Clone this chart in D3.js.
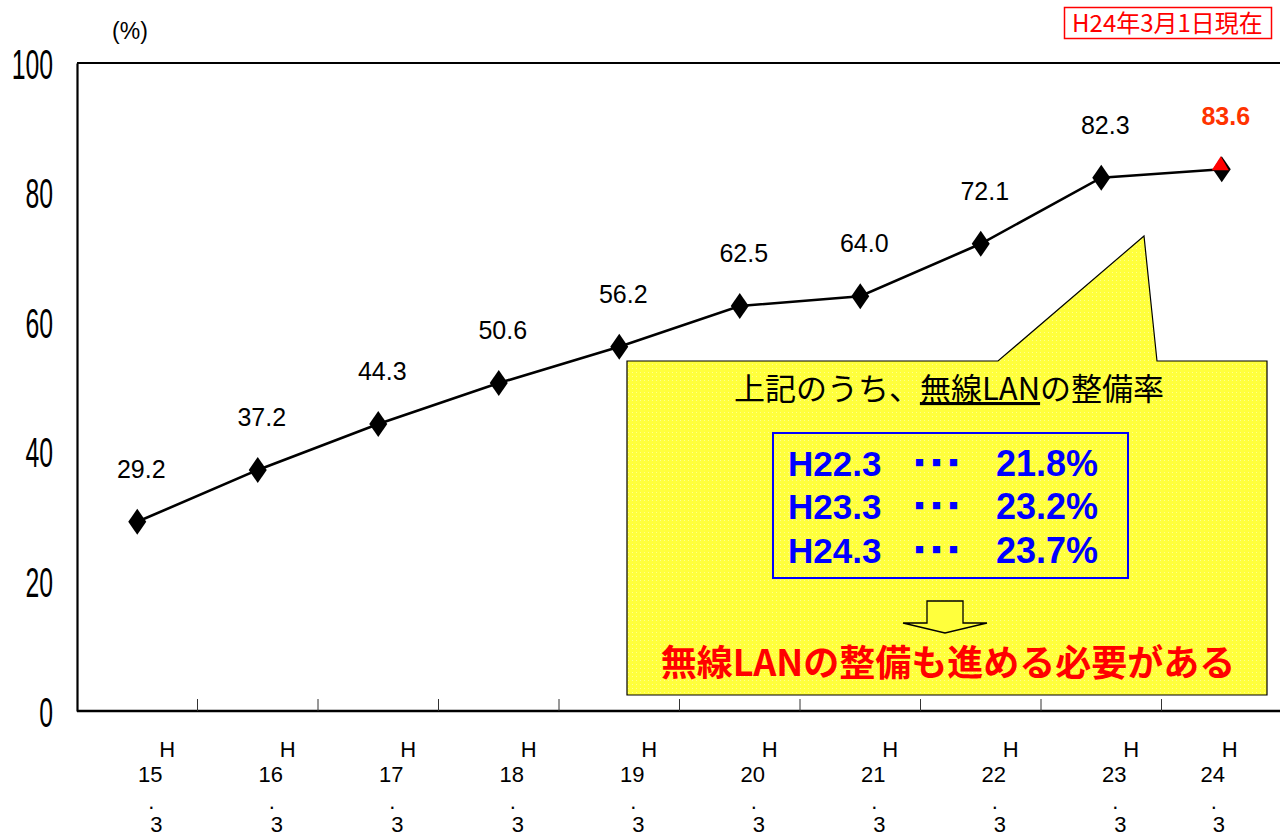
<!DOCTYPE html>
<html>
<head>
<meta charset="utf-8">
<script src="https://d3js.org/d3.v7.min.js"></script>
<style>
	body, html {
		margin: 0;
		padding: 0;
		background: #fff;
	}
	svg { display: block; }
	.ylab {
		font-family: "Liberation Sans", sans-serif;
		font-size: 31px;
	}
	.xlab {
		font-family: "Liberation Sans", sans-serif;
		font-size: 22px;
		text-anchor: middle;
	}
	.val {
		font-family: "Liberation Sans", Arial, sans-serif;
		font-size: 25px;
		text-anchor: middle;
	}
	.jp { font-family: "Noto Sans CJK JP", sans-serif; }
</style>
</head>
<body>
<script>

	// data
	var categories = ["15", "16", "17", "18", "19", "20", "21", "22", "23", "24"];
	var rates = [29.2, 37.2, 44.3, 50.6, 56.2, 62.5, 64.0, 72.1, 82.3, 83.6];
	var yTicks = [0, 20, 40, 60, 80, 100];
	var wlanYears = ["H22.3", "H23.3", "H24.3"];
	var wlanRates = ["21.8%", "23.2%", "23.7%"];

	var w = 1280, h = 839;
	var plotLeft = 77, plotTop = 63, plotBottom = 711;
	var bandW = 120.5;

	var svg = d3.select("body").append("svg")
		.attr("width", w)
		.attr("height", h);

	var x = d3.scaleBand()
		.domain(categories)
		.range([plotLeft, plotLeft + bandW * categories.length]);

	var y = d3.scaleLinear()
		.domain([0, 100])
		.range([plotBottom, plotTop]);

	// frame (top line runs off the right edge)
	svg.append("line")
		.attr("x1", plotLeft).attr("x2", w + 5)
		.attr("y1", y(100)).attr("y2", y(100))
		.attr("stroke", "#000").attr("stroke-width", 2.2);

	// y axis -- condensed, tall digits
	var sx = 0.8, sy = 1.35;
	var yAxis = d3.axisLeft(y)
		.tickValues(yTicks)
		.tickSize(0)
		.tickSizeOuter(0)
		.tickPadding(24 / sx);

	var gy = svg.append("g")
		.attr("transform", "translate(" + plotLeft + ",0)")
		.call(yAxis)
		.attr("font-size", null)
		.attr("font-family", null);
	gy.select(".domain").attr("stroke", "#000").attr("stroke-width", 2.2);
	gy.selectAll("text")
		.attr("class", "ylab")
		.attr("fill", "#000")
		.attr("dy", "0.36em")
		.attr("transform", "scale(" + sx + "," + sy + ")");

	// x axis baseline + ticks at band boundaries
	svg.append("line")
		.attr("x1", plotLeft).attr("x2", w + 5)
		.attr("y1", plotBottom).attr("y2", plotBottom)
		.attr("stroke", "#000").attr("stroke-width", 2.6);

	svg.selectAll(".xtick")
		.data(categories.slice(1))
		.enter().append("line")
		.attr("class", "xtick")
		.attr("x1", function(d){ return x(d); })
		.attr("x2", function(d){ return x(d); })
		.attr("y1", plotBottom)
		.attr("y2", plotBottom - 12)
		.attr("stroke", "#333")
		.attr("stroke-width", 1);

	// x labels stacked: H / nn / . / 3
	var xl = svg.selectAll(".xl")
		.data(categories)
		.enter().append("g")
		.attr("transform", function(d, i){
			var c = x(d) + x.bandwidth() / 2;
			return "translate(" + (i === categories.length - 1 ? c - 22 : c) + ",0)";
		});

	xl.append("text").attr("class", "xlab").attr("x", 30).attr("y", 757).text("H");
	xl.append("text").attr("class", "xlab").attr("x", 13).attr("y", 782).text(function(d){ return d; });
	xl.append("text").attr("class", "xlab").attr("x", 14).attr("y", 809).text(".");
	xl.append("text").attr("class", "xlab").attr("x", 19).attr("y", 832).text("3");

	// (%)
	svg.append("text")
		.attr("x", 130).attr("y", 39)
		.attr("text-anchor", "middle")
		.style("font-family", "Liberation Sans, sans-serif")
		.style("font-size", "23px")
		.text("(%)");

	// stamp
	svg.append("rect")
		.attr("x", 1064.5).attr("y", 7.5)
		.attr("width", 207).attr("height", 31)
		.attr("fill", "#fff").attr("stroke", "#ff0000").attr("stroke-width", 1.5);
	svg.append("text")
		.attr("class", "jp")
		.attr("x", 1167.5).attr("y", 32)
		.attr("text-anchor", "middle")
		.attr("fill", "#ff0000")
		.style("font-size", "24px")
		.text("H24年3月1日現在");

	// line
	var pts = categories.map(function(c, i){
		return [x(c) + x.bandwidth() / 2, y(rates[i])];
	});

	svg.append("path")
		.datum(pts)
		.attr("fill", "none")
		.attr("stroke", "#000")
		.attr("stroke-width", 2.6)
		.attr("d", d3.line());

	// diamonds
	var dw = 9, dh = 13;
	function diamond(p){
		return "M" + p[0] + "," + (p[1] - dh) + "L" + (p[0] + dw) + "," + p[1] +
			"L" + p[0] + "," + (p[1] + dh) + "L" + (p[0] - dw) + "," + p[1] + "Z";
	}
	svg.selectAll(".mk")
		.data(pts)
		.enter().append("path")
		.attr("class", "mk")
		.attr("d", diamond)
		.attr("fill", "#000");

	// latest point: red upper half
	var lp = pts[pts.length - 1];
	svg.append("path")
		.attr("d", "M" + (lp[0] - 1) + "," + (lp[1] - dh) + "L" + (lp[0] + dw - 2) + "," + (lp[1] + 1) +
			"L" + (lp[0] - dw - 1) + "," + (lp[1] + 1) + "Z")
		.attr("fill", "#ff0000");

	// value labels
	svg.selectAll(".val")
		.data(pts)
		.enter().append("text")
		.attr("class", "val")
		.attr("x", function(p){ return p[0] + 4; })
		.attr("y", function(p){ return p[1] - 44; })
		.attr("fill", function(p, i){ return i === pts.length - 1 ? "#ff3300" : "#000"; })
		.style("font-weight", function(p, i){ return i === pts.length - 1 ? "bold" : "normal"; })
		.text(function(p, i){ return rates[i].toFixed(1); });

	// callout
	var defs = svg.append("defs");
	var pat = defs.append("pattern")
		.attr("id", "dots")
		.attr("width", 4).attr("height", 4)
		.attr("patternUnits", "userSpaceOnUse");
	pat.append("rect").attr("width", 4).attr("height", 4).attr("fill", "#ffff3c");
	pat.append("rect").attr("x", 0).attr("y", 0).attr("width", 1).attr("height", 1).attr("fill", "#ffff90");

	var cL = 627, cR = 1267, cT = 361, cB = 695;
	svg.append("path")
		.attr("d", "M" + cL + "," + cT + "L998," + cT + "L1144,236L1157," + cT +
			"L" + cR + "," + cT + "L" + cR + "," + cB + "L" + cL + "," + cB + "Z")
		.attr("fill", "url(#dots)")
		.attr("stroke", "#000")
		.attr("stroke-width", 1.2);

	var t1 = svg.append("text")
		.attr("class", "jp")
		.attr("x", 949).attr("y", 400)
		.attr("text-anchor", "middle")
		.style("font-size", "31px")
		.attr("fill", "#000");
	t1.append("tspan").text("上記のうち、");
	t1.append("tspan").style("text-decoration", "underline").text("無線LAN");
	t1.append("tspan").text("の整備率");

	svg.append("rect")
		.attr("x", 773).attr("y", 433)
		.attr("width", 355).attr("height", 145)
		.attr("fill", "none")
		.attr("stroke", "#0000ff")
		.attr("stroke-width", 2);

	var rows = svg.selectAll(".row")
		.data(wlanYears)
		.enter().append("g")
		.attr("transform", function(d, i){ return "translate(0," + (476 + i * 43.3) + ")"; });

	rows.append("text")
		.attr("x", 788)
		.style("font-family", "Liberation Sans, Arial, sans-serif")
		.style("font-size", "35px")
		.style("font-weight", "bold")
		.attr("fill", "#0000ff")
		.text(function(d){ return d; });

	rows.append("text")
		.attr("class", "jp")
		.attr("x", 915).attr("y", -10)
		.style("font-size", "9px")
		.style("letter-spacing", "8px")
		.attr("fill", "#0000ff")
		.text("■■■");

	rows.append("text")
		.attr("x", 1098)
		.attr("text-anchor", "end")
		.style("font-family", "Liberation Sans, Arial, sans-serif")
		.style("font-size", "36px")
		.style("font-weight", "bold")
		.attr("fill", "#0000ff")
		.text(function(d, i){ return wlanRates[i]; });

	// down arrow
	svg.append("path")
		.attr("d", "M927,601L963,601L963,623L987,623L945,633L903,623L927,623Z")
		.attr("fill", "#ffff3c")
		.attr("stroke", "#000")
		.attr("stroke-width", 1.3);

	svg.append("text")
		.attr("class", "jp")
		.attr("x", 948).attr("y", 676)
		.attr("text-anchor", "middle")
		.style("font-size", "36px")
		.style("font-weight", "bold")
		.attr("fill", "#ff0000")
		.text("無線LANの整備も進める必要がある");

</script>
</body>
</html>
